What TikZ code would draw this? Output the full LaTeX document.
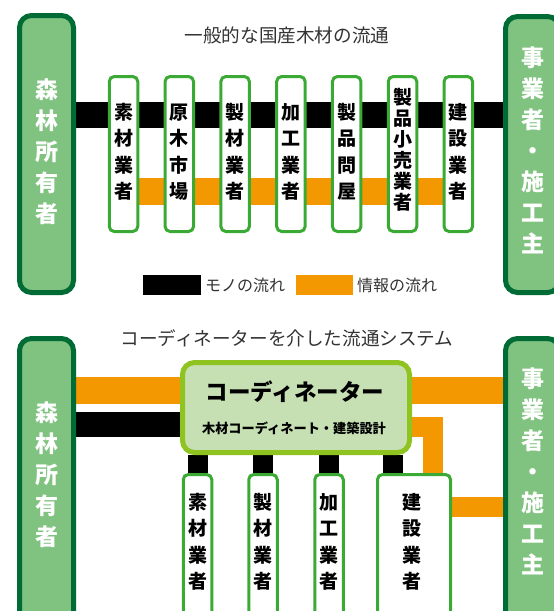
\documentclass[tikz,border=0pt]{standalone}
\usepackage{fontspec}
\usetikzlibrary{backgrounds}
\newfontfamily\jp{Noto Sans CJK JP}
\definecolor{dkgreen}{HTML}{006B35}
\definecolor{ltgreen}{HTML}{80C380}
\definecolor{boxgreen}{HTML}{3BAA35}
\definecolor{orng}{HTML}{F39800}
\definecolor{coordborder}{HTML}{8FC31F}
\definecolor{coordfill}{HTML}{C6E0B4}
\definecolor{titlegray}{HTML}{333333}
\tikzset{
  bigbox/.style={draw=dkgreen, line width=5pt, fill=ltgreen, rounded corners=12pt, inner sep=0pt, minimum width=54pt},
  smallbox/.style={draw=boxgreen, line width=3pt, fill=white, rounded corners=5pt, inner sep=0pt, minimum width=28.5pt},
  bigtxt/.style={font=\jp\bfseries\fontsize{23}{31}\selectfont, text=white, align=center, inner sep=0pt},
  smalltxt/.style={font=\jp\bfseries\fontsize{19}{26.5}\selectfont, text=black, align=center, inner sep=0pt},
  tighttxt/.style={font=\jp\bfseries\fontsize{19}{21}\selectfont, text=black, align=center, inner sep=0pt},
  titletxt/.style={font=\jp\fontsize{18.6}{20}\selectfont, text=titlegray, inner sep=0pt},
  legtxt/.style={font=\jp\fontsize{16}{18}\selectfont, text=titlegray, inner sep=0pt, anchor=west},
  blackbar/.style={draw=black, line width=26pt},
  orangebar/.style={draw=orng, line width=27pt},
  thinorange/.style={draw=orng, line width=20pt, line join=miter},
  stub/.style={draw=black, line width=20pt},
}
\begin{document}
\begin{tikzpicture}[x=1pt,y=-1pt]
\useasboundingbox (0,0) rectangle (554,611);
\clip (0,0) rectangle (554,611);

% ---------- top section ----------
\node[titletxt] (title1) at (287,35) {一般的な国産木材の流通};

\node[bigbox, minimum height=277pt] (L1) at (46.5,154) {};
\node[bigbox, minimum height=276pt] (R1) at (532.5,154.5) {};

\foreach \i/\x in {1/123.5,2/179.3,3/235.1,4/290.9,5/346.7,6/402.5,7/458.3}{
  \node[smallbox, minimum height=155pt] (s\i) at (\x,154) {};
}
\coordinate (yb1) at (0,115);
\coordinate (yo1) at (0,191.5);

\begin{scope}[on background layer]
  \draw[blackbar] (L1.east |- yb1) -- (R1.west |- yb1);
  \draw[orangebar] (s1 |- yo1) -- (s7 |- yo1);
\end{scope}

\node[bigtxt] (L1t) at (46.5,151.5) {森\\林\\所\\有\\者};
\node[bigtxt] (R1t) at (533,150) {事\\業\\者\\・\\施\\工\\主};

\node[smalltxt] (s1t) at (s1 |- 0,152) {素\\材\\業\\者};
\node[smalltxt] (s2t) at (s2 |- 0,152) {原\\木\\市\\場};
\node[smalltxt] (s3t) at (s3 |- 0,152) {製\\材\\業\\者};
\node[smalltxt] (s4t) at (s4 |- 0,152) {加\\工\\業\\者};
\node[smalltxt] (s5t) at (s5 |- 0,152) {製\\品\\問\\屋};
\node[tighttxt] (s6t) at (s6 |- 0,150) {製\\品\\小\\売\\業\\者};
\node[smalltxt] (s7t) at (s7 |- 0,152) {建\\設\\業\\者};

% legend
\node[fill=black, minimum width=58pt, minimum height=20pt, inner sep=0pt] (lg1) at (172,285) {};
\node[legtxt] (lg1t) at (205,285) {モノの流れ};
\node[fill=orng, minimum width=57pt, minimum height=20pt, inner sep=0pt] (lg2) at (324.5,285) {};
\node[legtxt] (lg2t) at (357,285) {情報の流れ};

% ---------- bottom section ----------
\node[titletxt] (title2) at (287,338) {コーディネーターを介した流通システム};

\node[bigbox, minimum height=309pt] (L2) at (46.5,493) {};
\node[bigbox, minimum height=309pt] (R2) at (532.5,493) {};

\node[draw=coordborder, line width=5pt, fill=coordfill, rounded corners=12pt,
      minimum width=227pt, minimum height=90pt, inner sep=0pt] (C) at (296,407.5) {};
\node[font=\jp\bfseries\fontsize{22.5}{24}\selectfont, inner sep=0pt] (Ct) at (295,392) {コーディネーター};
\node[font=\jp\bfseries\fontsize{13.2}{15}\selectfont, inner sep=0pt] (Cs) at (294,428) {木材コーディネート・建築設計};

\node[smallbox, minimum height=164pt] (b1) at (197.5,556.5) {};
\node[smallbox, minimum height=164pt] (b2) at (263,556.5) {};
\node[smallbox, minimum height=164pt] (b3) at (329,556.5) {};
\node[smallbox, minimum width=73pt, minimum height=164pt] (b4) at (414,556.5) {};

\coordinate (yo2) at (0,390.5);
\coordinate (yb2) at (0,424.5);
\coordinate (corner) at (433,427);
\coordinate (yo3) at (0,507);
\coordinate (x4) at (393,0);

\begin{scope}[on background layer]
  \draw[orangebar] (L2.east |- yo2) -- (C.west |- yo2);
  \draw[draw=black, line width=25pt] (L2.east |- yb2) -- (C.west |- yb2);
  \draw[orangebar] (C.east |- yo2) -- (R2.west |- yo2);
  \draw[thinorange] (C.east |- corner) -- (corner) -- (corner |- b4.north);
  \draw[thinorange] (b4.east |- yo3) -- (R2.west |- yo3);
  \draw[stub] (C.south -| b1) -- (b1.north);
  \draw[stub] (C.south -| b2) -- (b2.north);
  \draw[stub] (C.south -| b3) -- (b3.north);
  \draw[stub] (C.south -| x4) -- (b4.north -| x4);
\end{scope}

\node[bigtxt] (L2t) at (46.5,475) {森\\林\\所\\有\\者};
\node[bigtxt] (R2t) at (533,471) {事\\業\\者\\・\\施\\工\\主};

\node[smalltxt] (b1t) at (b1 |- 0,542) {素\\材\\業\\者};
\node[smalltxt] (b2t) at (b2 |- 0,542) {製\\材\\業\\者};
\node[smalltxt] (b3t) at (b3 |- 0,542) {加\\工\\業\\者};
\node[smalltxt] (b4t) at (412,542) {建\\設\\業\\者};
\end{tikzpicture}
\end{document}
